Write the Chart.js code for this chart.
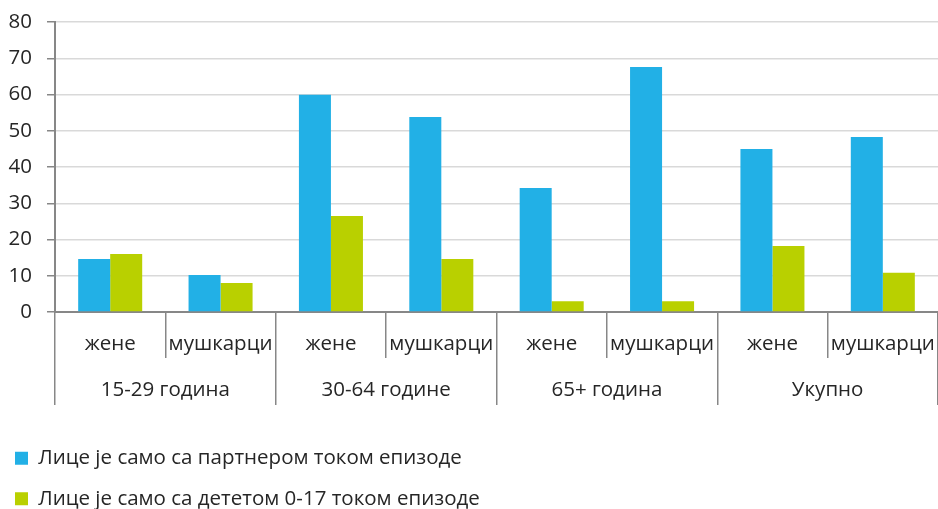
<!DOCTYPE html>
<html>
<head>
<meta charset="utf-8">
<title>Лице само са партнером / дететом</title>
<script src="https://cdn.jsdelivr.net/npm/chart.js@4.4.1/dist/chart.umd.min.js"></script>
<style>
  html, body { margin: 0; padding: 0; background: #fff; }
  #graph1 { display: block; }
</style>
</head>
<body>
<canvas id="graph1" width="938" height="509"></canvas>
<script>
// categories: sex within each age group
var sexLabels = ['жене', 'мушкарци', 'жене', 'мушкарци', 'жене', 'мушкарци', 'жене', 'мушкарци'];
var groupLabels = ['15-29 година', '30-64 године', '65+ година', 'Укупно'];

// shares, %
var withPartner = [14.6, 10.2, 59.9, 53.8, 34.2, 67.6, 45.0, 48.3];
var withChild = [16.0, 8.0, 26.5, 14.6, 3.0, 3.0, 18.2, 10.8];

var yTicks = [0, 10, 20, 30, 40, 50, 60, 70, 80];

var textColor = '#262626';
var axisColor = '#878787';
var fontFamily = "'Open Sans', 'DejaVu Sans', sans-serif";

Chart.defaults.font.family = fontFamily;
Chart.defaults.font.size = 20.5;
Chart.defaults.color = textColor;

function showChart() {
    var context = document.getElementById('graph1').getContext('2d');
    var chart = new Chart(context, {
        type: 'bar',
        data: {
            labels: sexLabels,
            datasets: [
                {
                    label: 'Лице је само са партнером током епизоде',
                    data: withPartner,
                    backgroundColor: '#22B0E6',
                    borderWidth: 0
                },
                {
                    label: 'Лице је само са дететом 0-17 током епизоде',
                    data: withChild,
                    backgroundColor: '#B9D000',
                    borderWidth: 0
                }
            ]
        },
        options: {
            responsive: false,
            animation: false,
            layout: {
                padding: { top: 22, right: 0, bottom: -10, left: -5 }
            },
            datasets: {
                bar: { categoryPercentage: 0.58, barPercentage: 1.0 }
            },
            plugins: {
                tooltip: { enabled: false },
                legend: {
                    position: 'bottom',
                    align: 'start',
                    labels: {
                        boxWidth: 13,
                        boxHeight: 13,
                        padding: 20,
                        color: textColor,
                        font: { size: 20.5 }
                    }
                }
            },
            scales: {
                x: {
                    type: 'category',
                    offset: true,
                    grid: {
                        offset: true,
                        drawOnChartArea: false,
                        drawTicks: true,
                        tickLength: 46,
                        color: axisColor,
                        lineWidth: 1.5
                    },
                    border: { display: true, color: axisColor, width: 2 },
                    ticks: {
                        autoSkip: false,
                        maxRotation: 0,
                        padding: -26,
                        color: textColor
                    },
                    afterFit: function (scale) { scale.height = 46; }
                },
                x2: {
                    type: 'category',
                    position: 'bottom',
                    labels: groupLabels,
                    offset: true,
                    grid: {
                        offset: true,
                        drawOnChartArea: false,
                        drawTicks: true,
                        tickLength: 47,
                        color: axisColor,
                        lineWidth: 1.5
                    },
                    border: { display: false },
                    ticks: {
                        autoSkip: false,
                        maxRotation: 0,
                        padding: -27,
                        color: textColor
                    },
                    afterFit: function (scale) { scale.height = 70; }
                },
                y: {
                    min: 0,
                    max: 80,
                    afterBuildTicks: function (scale) {
                        scale.ticks = yTicks.map(function (v) { return { value: v }; });
                    },
                    grid: {
                        color: '#d9d9d9',
                        lineWidth: 1.5,
                        tickLength: 8,
                        tickColor: axisColor,
                        tickWidth: 1.5
                    },
                    border: { display: true, color: axisColor, width: 2 },
                    ticks: {
                        padding: 15,
                        color: textColor
                    },
                    afterFit: function (scale) {
                        scale.width = 60;
                        // the top label fits inside the layout padding
                        scale.paddingTop = 0;
                    }
                }
            }
        }
    });
    return chart;
}

showChart();
</script>
</body>
</html>
